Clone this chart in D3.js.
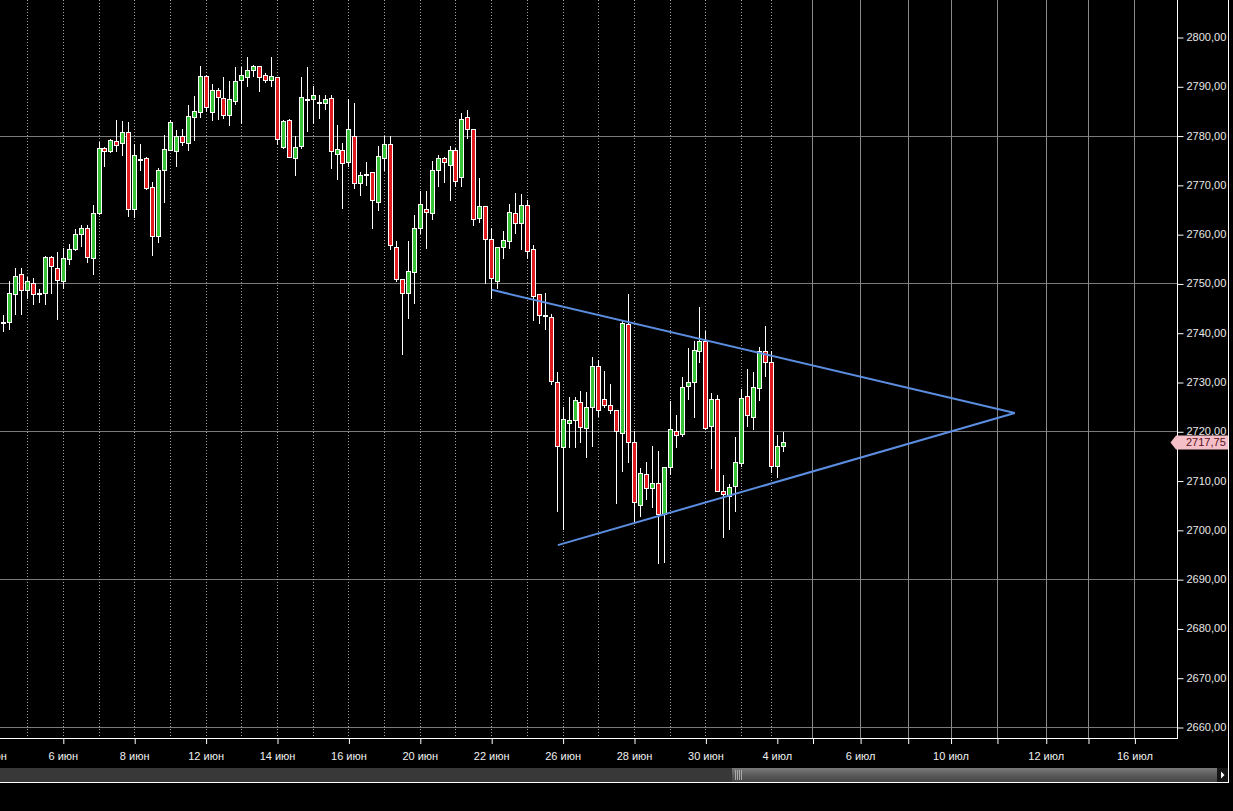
<!DOCTYPE html>
<html>
<head>
<meta charset="utf-8">
<script src="https://cdn.jsdelivr.net/npm/d3@7/dist/d3.min.js"></script>
<style>
  html, body { margin: 0; padding: 0; background: #000; }
  svg { display: block; }
  text { font-family: "Liberation Sans", Arial, sans-serif; }
</style>
</head>
<body>
<svg id="chart" width="1233" height="811"></svg>
<script>
// ---- data (4-hour candles) ----
const openP = [2742,2742.2,2747.8,2752,2748.6,2750,2748,2748,2755.4,2753.2,2750.5,2754.9,2757,2760,2761.2,2755.2,2764.2,2777.4,2776.8,2779,
2778.4,2780.7,2765.2,2775.3,2775.35,2769.5,2759.7,2773,2777,2776.8,2780,2778.4,2783.8,2784.8,2792,2784.8,2789.2,2787.6,2784.25,2787.1,
2791.35,2791.9,2793.4,2794.05,2792.2,2791.35,2791.8,2777.7,2783.25,2775.35,2777.85,2787.5,2787.4,2786.8,2786.6,2787.6,2776.35,2777,2774.7,2780,
2770.3,2772.3,2772.6,2766.55,2775.35,2778.2,2757.4,2751,2748,2752.4,2761.3,2765.2,2764.3,2773,2775.35,2774.1,2777,2771.6,2783.7,2781.4,
2763.2,2765.7,2759.1,2750.5,2757.4,2758.6,2764.2,2762.2,2766,2756.9,2747.8,2743.6,2743.25,2730.1,2716.9,2721.6,2722.2,2726,2720.7,2724.9,
2733.25,2726.55,2725.3,2724.3,2719.65,2741.75,2717.9,2705.05,2711.35,2708.5,2709.5,2703.25,2712.7,2720,2719.45,2729.1,2730.1,2736.2,2738.4,2721,
2726.55,2707.95,2706.95,2708.85,2713.5,2727.2,2722.8,2728.8,2736.2,2734.1,2712.9,2716.95];
const highP = [2743.5,2750.5,2753.2,2753.2,2751.3,2751.2,2748.8,2755.5,2755.5,2756.4,2757.1,2758,2761,2761.8,2761.8,2765.9,2778.7,2777.7,2779.4,2783.25,
2783,2782.7,2778.2,2778.2,2775.6,2770.55,2773.45,2780.1,2783.1,2781.2,2781.4,2786.3,2788,2794.1,2792.35,2790.5,2789.7,2791.8,2791,2793.85,
2793.85,2795.9,2794.4,2794.1,2792.7,2795.9,2791.9,2783.25,2783.3,2780,2791.8,2793.85,2790,2788.3,2788.3,2788.3,2782.1,2778.4,2787.4,2786.6,
2772.65,2774.6,2772.6,2777.85,2779.9,2780,2758.7,2751,2758.6,2763.85,2768.7,2768.7,2774.8,2776,2775.6,2777.85,2777.4,2784.6,2785.1,2781.4,
2771.4,2765.7,2761.2,2757.4,2760.6,2766.15,2768.25,2768.05,2767,2757.8,2747.8,2748,2743.8,2732,2724.9,2726.9,2726.9,2728.2,2727.9,2735.1,
2734.5,2732.3,2729.6,2724.3,2742.4,2747.95,2720.1,2712.5,2713.85,2717.1,2716.1,2712.7,2726.2,2723.4,2731,2737,2738.4,2745.3,2740.4,2727.8,
2727.4,2711.2,2709.3,2718.9,2728.6,2732.6,2731.95,2737.15,2741.4,2736.35,2719.3,2719.9];
const lowP = [2740.25,2740.7,2743.7,2743.7,2747.1,2745.9,2746.3,2745.9,2748.1,2742.8,2749,2753.9,2756.8,2757.6,2754.4,2752,2764,2773.9,2776.7,2776.8,
2776,2763.6,2763.5,2773.1,2769.25,2755.7,2758.45,2766.55,2777,2773.9,2778,2777,2779.2,2783.8,2784.9,2783.1,2783.4,2783.6,2782.2,2786.5,
2782.6,2790,2792,2789.1,2790.8,2790,2778.2,2777.4,2775.6,2772.1,2777.4,2780.9,2782.6,2783.6,2785.3,2773.45,2771.1,2765.35,2773.8,2769.4,
2767.85,2769.9,2761.2,2765,2773.1,2756.9,2750.5,2735.6,2743.05,2746.1,2760.3,2757.1,2763,2769.7,2770.55,2767,2769.7,2769.7,2779.5,2761.95,
2762.5,2750.1,2747,2749.1,2755.2,2757.2,2760.3,2756.9,2755.2,2742.5,2742,2740.7,2729.6,2703.9,2700.2,2716.75,2716.75,2717.8,2714.7,2717.1,
2723.2,2724.9,2723.65,2705.4,2711.9,2713.7,2701.35,2702.8,2706.3,2704.6,2693.25,2693.45,2711.35,2716.75,2719.1,2726.55,2722.85,2734.1,2720.5,2712.5,
2707.8,2698.5,2700.2,2703.9,2713,2721.15,2720.5,2726.4,2731.15,2711.7,2710.7,2715.9];
const closeP = [2742.1,2748,2751.6,2748.6,2750.5,2747.8,2747.9,2755.4,2753.5,2750.6,2755.2,2757,2760.1,2761.2,2755.4,2764.3,2777.4,2776.8,2779.2,2778,
2780.7,2765.2,2776.1,2775.3,2769.4,2759.7,2773.1,2777.2,2782.7,2780,2778.65,2783.9,2784.9,2792,2785.8,2789.2,2787.8,2784.25,2787.5,2791.15,
2792.35,2793.25,2794.05,2791.9,2791.35,2792,2779.4,2782.9,2775.7,2777.7,2787.8,2787.4,2788.2,2786.7,2787.5,2776.8,2777.2,2774.5,2781.4,2770.3,
2772.1,2772.2,2767,2775.8,2778.2,2757.7,2750.95,2748,2752.5,2761.3,2766.2,2764.5,2773.1,2775.35,2774.6,2777,2770.75,2783.45,2781.4,2763,
2765.7,2759.1,2751.15,2757.4,2758.8,2764.45,2762.3,2766,2756.6,2747.45,2743.6,2743.5,2730.3,2717.1,2722.5,2722.3,2726.35,2720.8,2724.9,2733.25,
2724.3,2725.4,2724.3,2720,2741.95,2717.8,2705.7,2711.55,2708.5,2709.5,2703.25,2712.7,2720.5,2719.25,2728.9,2730.1,2736.5,2738.25,2720.7,2726.55,
2707.8,2707.3,2708.65,2713.7,2726.75,2723.3,2728.9,2736.35,2734.1,2713,2717.1,2717.75];

const lastPrice = 2717.75;

// y axis
const yTicks = [2660,2670,2680,2690,2700,2710,2720,2730,2740,2750,2760,2770,2780,2790,2800];
const yGrid = [2660,2690,2720,2750,2780];

// x axis (bar index units)
const dayLines = [4,10,16,22,28,34,40,46,52,58,64,70,76,82,88,94,100,106,112,118,124,129];
const futureLines = [136,144,152,159.2,167,175.2,182.3,190.1];
const xTickIdx = [-2,10,22,34,46,58,70,82,94,106,118,130,136,144,152,159.2,167,175.2,182.3,190.1];
const xTickLabels = ["4 июн","6 июн","8 июн","12 июн","14 июн","16 июн","20 июн","22 июн","26 июн","28 июн","30 июн","4 июл","","6 июл","","10 июл","","12 июл","","16 июл"];

// triangle trend lines [index, price]
const upperLine = [[82.1, 2748.7],[170, 2723.7]];
const lowerLine = [[93.2, 2696.9],[170, 2723.7]];

// ---- drawing ----
const svg = d3.select("#chart");
const W = 1233, H = 811;
const plotR = 1177.5, plotB = 738;

svg.append("rect").attr("width", W).attr("height", H).attr("fill", "#000");

const x = d3.scaleLinear().domain([0, 131]).range([3.3, 782.75]);
const y = d3.scaleLinear().domain([2660, 2800]).range([727, 37]);

const defs = svg.append("defs");
defs.append("clipPath").attr("id", "plotClip")
  .append("rect").attr("x", 0).attr("y", 0).attr("width", plotR).attr("height", plotB);

const plot = svg.append("g").attr("clip-path", "url(#plotClip)");

const px = v => Math.round(x(v)) + 0.5;
const py = v => Math.round(y(v)) + 0.5;

// horizontal grid
plot.append("g").selectAll("line").data(yGrid).join("line")
  .attr("x1", 0).attr("x2", plotR)
  .attr("y1", d => py(d)).attr("y2", d => py(d))
  .attr("stroke", "#7a7a7a").attr("stroke-width", 1);

// dotted day lines
plot.append("g").selectAll("line").data(dayLines).join("line")
  .attr("x1", d => px(d)).attr("x2", d => px(d))
  .attr("y1", 0).attr("y2", plotB)
  .attr("stroke", "#a0a0a0").attr("stroke-width", 1)
  .attr("stroke-dasharray", "1,2");

// solid future lines
plot.append("g").selectAll("line").data(futureLines).join("line")
  .attr("x1", d => px(d)).attr("x2", d => px(d))
  .attr("y1", 0).attr("y2", plotB)
  .attr("stroke", "#8a8a8a").attr("stroke-width", 1);

// candles
const candles = d3.range(openP.length).map(i => ({
  i, o: openP[i], h: highP[i], l: lowP[i], c: closeP[i]
}));

const cg = plot.append("g");
cg.selectAll("line.wick").data(candles).join("line")
  .attr("class", "wick")
  .attr("x1", d => px(d.i)).attr("x2", d => px(d.i))
  .attr("y1", d => Math.round(y(d.h))).attr("y2", d => Math.round(y(d.l)) + 1)
  .attr("stroke", "#ffffff").attr("stroke-width", 1);

cg.selectAll("rect.body").data(candles).join("rect")
  .attr("class", "body")
  .attr("x", d => Math.round(x(d.i)) - 1.5)
  .attr("width", 4)
  .attr("y", d => Math.round(y(Math.max(d.o, d.c))) + 0.5)
  .attr("height", d => Math.max(1, Math.round(y(Math.min(d.o, d.c))) - Math.round(y(Math.max(d.o, d.c)))))
  .attr("fill", d => d.c >= d.o ? "#36c436" : "#e01a1e")
  .attr("stroke", "#ffffff").attr("stroke-width", 1);

// trend lines
const lineGen = d3.line().x(d => x(d[0])).y(d => y(d[1]));
[upperLine, lowerLine].forEach(seg => {
  plot.append("path").attr("d", lineGen(seg))
    .attr("fill", "none").attr("stroke", "#5b8ee0").attr("stroke-width", 2);
});

// borders
svg.append("line").attr("x1", 0).attr("x2", plotR).attr("y1", plotB + 0.5).attr("y2", plotB + 0.5)
  .attr("stroke", "#fff");
svg.append("line").attr("x1", plotR).attr("x2", plotR).attr("y1", 0).attr("y2", plotB + 1)
  .attr("stroke", "#fff");
svg.append("line").attr("x1", 1228.5).attr("x2", 1228.5).attr("y1", 0).attr("y2", 782.5)
  .attr("stroke", "#fff");

// right axis
const yAxis = d3.axisRight(y).tickValues(yTicks).tickSize(6).tickPadding(3)
  .tickFormat(d => d.toFixed(2).replace(".", ","));
const ya = svg.append("g").attr("transform", `translate(${plotR},0)`).call(yAxis);
ya.select(".domain").remove();
ya.selectAll(".tick line").attr("stroke", "#fff").attr("transform", "translate(0,0.5)");
ya.selectAll(".tick text").attr("fill", "#e8e8e8").attr("font-size", 11)
  .attr("font-family", "'Liberation Sans', Arial, sans-serif");

// bottom axis
const xAxis = d3.axisBottom(x).tickValues(xTickIdx).tickSize(6).tickPadding(8)
  .tickFormat((d, k) => xTickLabels[k]);
const xa = svg.append("g").attr("transform", `translate(0,${plotB})`).call(xAxis);
xa.select(".domain").remove();
xa.selectAll(".tick line").attr("stroke", "#fff").attr("transform", "translate(0.5,0)");
xa.selectAll(".tick text").attr("fill", "#f0f0f0").attr("font-size", 11)
  .attr("font-family", "'Liberation Sans', Arial, sans-serif");
xa.selectAll(".tick").filter((d, k) => xTickLabels[k] === "").select("text").remove();

// last price marker
const ly = y(lastPrice);
svg.append("polygon")
  .attr("points", [[1170.5, ly], [1176, ly - 7], [1228, ly - 7], [1228, ly + 7], [1176, ly + 7]].map(p => p.join(",")).join(" "))
  .attr("fill", "#f5bfc8");
svg.append("text").attr("x", 1186).attr("y", ly).attr("dy", "0.35em")
  .attr("font-size", 11).attr("fill", "#5a0f1c")
  .text(lastPrice.toFixed(2).replace(".", ","));

// scrollbar
const sb = svg.append("g");
const grad = defs.append("linearGradient").attr("id", "thumbGrad").attr("x1", 0).attr("y1", 0).attr("x2", 0).attr("y2", 1);
grad.append("stop").attr("offset", "0%").attr("stop-color", "#7a7a7a");
grad.append("stop").attr("offset", "45%").attr("stop-color", "#5e5e5e");
grad.append("stop").attr("offset", "100%").attr("stop-color", "#444");
sb.append("rect").attr("x", 0).attr("y", 768).attr("width", 1228).attr("height", 14).attr("fill", "#383838");
sb.append("rect").attr("x", 732).attr("y", 768).attr("width", 485).attr("height", 14).attr("fill", "url(#thumbGrad)");
[735, 737, 739, 741].forEach(gx => {
  sb.append("line").attr("x1", gx + 0.5).attr("x2", gx + 0.5).attr("y1", 770).attr("y2", 780)
    .attr("stroke", "#a8a8a8").attr("stroke-width", 1);
});
sb.append("rect").attr("x", 1217).attr("y", 768).attr("width", 11).attr("height", 14).attr("fill", "#151515");
sb.append("polygon").attr("points", "1221,771.5 1224.5,775 1221,778.5").attr("fill", "#fff");
svg.append("line").attr("x1", 0).attr("x2", 1229).attr("y1", 782.5).attr("y2", 782.5).attr("stroke", "#fff");
</script>
</body>
</html>
